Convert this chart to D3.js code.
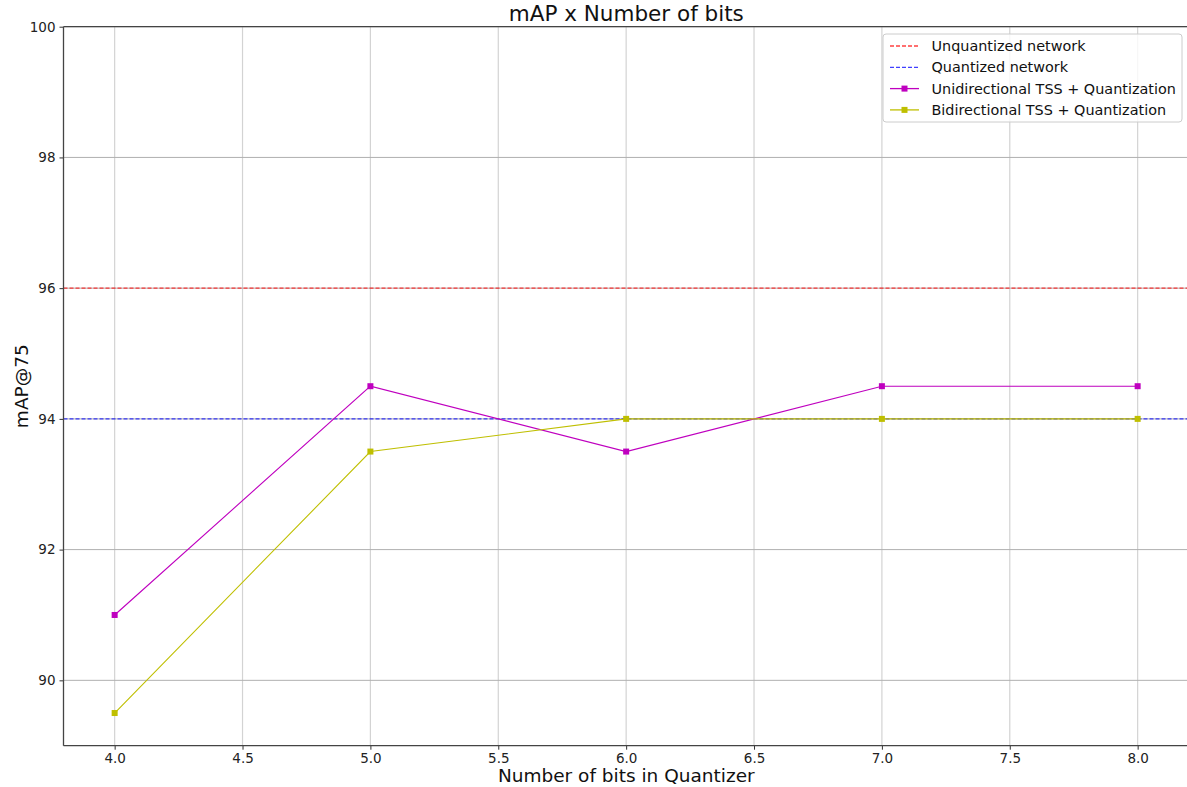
<!DOCTYPE html>
<html>
<head>
<meta charset="utf-8">
<script src="https://cdn.jsdelivr.net/npm/d3@7"></script>
<style>
  html, body { margin: 0; padding: 0; background: #fff; }
  svg { display: block; font-family: "DejaVu Sans", sans-serif; }
</style>
</head>
<body>
<svg id="chart" width="1187" height="787"></svg>
<script>
// Quantizer bit widths and mAP@75 results
const bits = [4, 5, 6, 7, 8];
const unidirectional = [91, 94.5, 93.5, 94.5, 94.5];
const bidirectional = [89.5, 93.5, 94, 94, 94];
const unquantizedRef = 96;
const quantizedRef = 94;
const xTicks = [4.0, 4.5, 5.0, 5.5, 6.0, 6.5, 7.0, 7.5, 8.0];
const yTicks = [90, 92, 94, 96, 98, 100];
const legendLabels = ["Unquantized network", "Quantized network",
  "Unidirectional TSS + Quantization", "Bidirectional TSS + Quantization"];

(function () {
const svg = d3.select("#chart");
const plotL = 63.5, plotR = 1188.8, plotT = 26.7, plotB = 745.7;

const x = d3.scaleLinear().domain([3.8, 8.2]).range([plotL, plotR]);
const y = d3.scaleLinear().domain([89, 100]).range([plotB, plotT]);

// grid
svg.append("g").selectAll("line").data(xTicks).join("line")
  .attr("x1", d => x(d)).attr("x2", d => x(d))
  .attr("y1", plotT).attr("y2", plotB)
  .attr("stroke", "#d3d3d3").attr("stroke-width", 1.2);
svg.append("g").selectAll("line").data(yTicks).join("line")
  .attr("x1", plotL).attr("x2", plotR)
  .attr("y1", d => y(d)).attr("y2", d => y(d))
  .attr("stroke", "#b0b0b0").attr("stroke-width", 1);

// reference lines
svg.append("line").attr("x1", plotL).attr("x2", plotR)
  .attr("y1", y(unquantizedRef)).attr("y2", y(unquantizedRef))
  .attr("stroke", "red").attr("stroke-opacity", 0.75)
  .attr("stroke-width", 1.3).attr("stroke-dasharray", "4,2");
svg.append("line").attr("x1", plotL).attr("x2", plotR)
  .attr("y1", y(quantizedRef)).attr("y2", y(quantizedRef))
  .attr("stroke", "blue").attr("stroke-opacity", 0.75)
  .attr("stroke-width", 1.3).attr("stroke-dasharray", "4,2");

// series
const line = d3.line().x(d => x(d[0])).y(d => y(d[1]));
function series(vals, color) {
  const pts = bits.map((b, i) => [b, vals[i]]);
  svg.append("path").datum(pts).attr("d", line)
    .attr("fill", "none").attr("stroke", color).attr("stroke-width", 1.1);
  svg.append("g").selectAll("rect").data(pts).join("rect")
    .attr("x", d => x(d[0]) - 3).attr("y", d => y(d[1]) - 3)
    .attr("width", 6).attr("height", 6).attr("fill", color);
}
series(unidirectional, "#bf00bf");
series(bidirectional, "#bfbf00");

// axes
const xAxis = d3.axisBottom(x).tickValues(xTicks).tickFormat(d3.format(".1f"))
  .tickSize(4).tickPadding(4);
const yAxis = d3.axisLeft(y).tickValues(yTicks).tickFormat(d3.format("d"))
  .tickSize(4).tickPadding(4);
const gx = svg.append("g").attr("transform", `translate(0,${plotB})`).call(xAxis);
const gy = svg.append("g").attr("transform", `translate(${plotL},0)`).call(yAxis);
[gx, gy].forEach(g => {
  g.select(".domain").remove();
  g.selectAll("line").attr("stroke", "#333");
  g.selectAll("text").attr("font-size", 13.5).attr("fill", "#222")
    .attr("font-family", "DejaVu Sans, sans-serif");
});

// spines
svg.append("line").attr("x1", plotL).attr("x2", plotL).attr("y1", plotT).attr("y2", plotB)
  .attr("stroke", "#444").attr("stroke-width", 1.3);
svg.append("line").attr("x1", plotL).attr("x2", plotR).attr("y1", plotB).attr("y2", plotB)
  .attr("stroke", "#444").attr("stroke-width", 1.3);
svg.append("line").attr("x1", plotL).attr("x2", plotR).attr("y1", plotT).attr("y2", plotT)
  .attr("stroke", "#444").attr("stroke-width", 1.3);

// titles
svg.append("text").attr("x", 626.3).attr("y", 20.5)
  .attr("text-anchor", "middle").attr("font-size", 21.5).attr("fill", "#111")
  .text("mAP x Number of bits");
svg.append("text").attr("x", 626.3).attr("y", 781.5)
  .attr("text-anchor", "middle").attr("font-size", 18.5).attr("fill", "#111")
  .text("Number of bits in Quantizer");
svg.append("text").attr("transform", `translate(27.5,${(plotT + plotB) / 2}) rotate(-90)`)
  .attr("text-anchor", "middle").attr("font-size", 18.5).attr("fill", "#111")
  .text("mAP@75");

// legend
const lg = svg.append("g");
lg.append("rect").attr("x", 883).attr("y", 34).attr("width", 299).attr("height", 88)
  .attr("rx", 3).attr("fill", "#fff").attr("fill-opacity", 0.8)
  .attr("stroke", "#ccc").attr("stroke-width", 1);
const legendStyles = [
  { color: "red", dash: "4,2", marker: false, opacity: 0.75 },
  { color: "blue", dash: "4,2", marker: false, opacity: 0.75 },
  { color: "#bf00bf", dash: null, marker: true, opacity: 1 },
  { color: "#bfbf00", dash: null, marker: true, opacity: 1 }
];
legendLabels.forEach((label, i) => {
  const yy = 46 + i * 21.3;
  const s = legendStyles[i];
  lg.append("line").attr("x1", 890).attr("x2", 919).attr("y1", yy).attr("y2", yy)
    .attr("stroke", s.color).attr("stroke-opacity", s.opacity)
    .attr("stroke-width", 1.3).attr("stroke-dasharray", s.dash);
  if (s.marker) {
    lg.append("rect").attr("x", 904.5 - 3).attr("y", yy - 3)
      .attr("width", 6).attr("height", 6).attr("fill", s.color);
  }
  lg.append("text").attr("x", 931.5).attr("y", yy + 5)
    .attr("font-size", 14.4).attr("fill", "#111").text(label);
});
})();
</script>
</body>
</html>
